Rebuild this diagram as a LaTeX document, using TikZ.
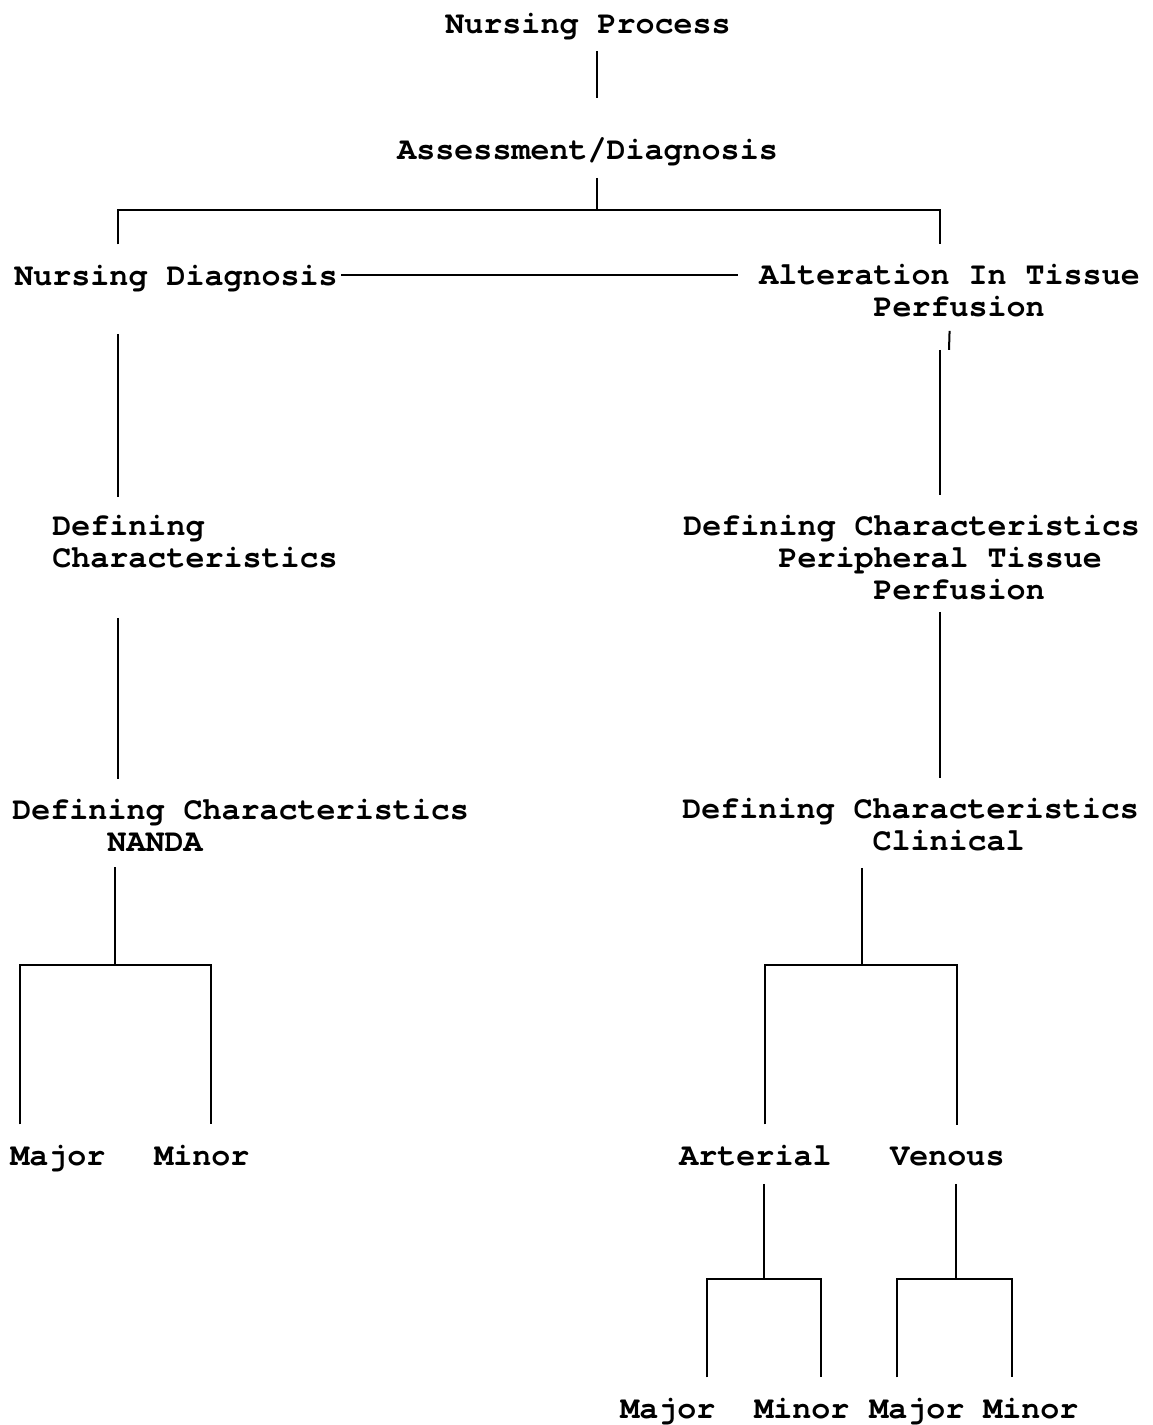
\documentclass[tikz,border=0pt]{standalone}
\usepackage{fontspec}
\newfontfamily\mono[Ligatures=NoCommon]{TeX Gyre Cursor}

\begin{document}
\begin{tikzpicture}[x=0.5pt,y=-0.5pt,
  lbl/.style={anchor=base west,inner sep=0pt,align=left,
    font=\mono\bfseries\fontsize{15.85pt}{15.8pt}\selectfont},
  link/.style={line width=1pt}]
  \useasboundingbox (0,0) rectangle (1152,1425);

  % texts (anchored at the baseline of the last line)
  \node[lbl] (np)   at (445,33)  {Nursing Process};
  \node[lbl] (ad)   at (397,159) {Assessment/Diagnosis};
  \node[lbl] (nd)   at (14,285)  {Nursing Diagnosis};
  \node[lbl] (atp)  at (759,316) {Alteration In Tissue\\\hphantom{000000}Perfusion};
  \node[lbl] (dc1)  at (52,567)  {Defining\\Characteristics};
  \node[lbl] (dcp)  at (683,599) {Defining Characteristics\\\hphantom{00000}Peripheral Tissue\\\hphantom{0000000000}Perfusion};
  \node[lbl] (dcn)  at (12,851)  {Defining Characteristics\\\hphantom{00000}NANDA};
  \node[lbl] (dcc)  at (682,850) {Defining Characteristics\\\hphantom{0000000000}Clinical};
  \node[lbl] (maj1) at (10,1165)  {Major};
  \node[lbl] (min1) at (154,1165) {Minor};
  \node[lbl] (art)  at (679,1165) {Arterial};
  \node[lbl] (ven)  at (890,1165) {Venous};
  \node[lbl] (maj2) at (620,1418) {Major};
  \node[lbl] (min2) at (754,1418) {Minor};
  \node[lbl] (maj3) at (869,1418) {Major};
  \node[lbl] (min3) at (983,1418) {Minor};

  % columns and junctions
  \coordinate (cl) at (118,0);
  \coordinate (cr) at (940,0);
  \coordinate (tick) at (950,0);
  \coordinate (j-ad) at (597,210);
  \coordinate (j-dcn) at (115,965);
  \coordinate (j-dcc) at (862,965);
  \coordinate (j-art) at (764,1279);
  \coordinate (j-ven) at (956,1279);
  \coordinate (b1l) at (20,965);  \coordinate (b1r) at (211,965);
  \coordinate (b2l) at (765,965); \coordinate (b2r) at (957,965);
  \coordinate (b3l) at (707,1279); \coordinate (b3r) at (821,1279);
  \coordinate (b4l) at (897,1279); \coordinate (b4r) at (1012,1279);

  % top
  \draw[link,shorten <=5.5pt,shorten >=19.5pt] (np.south -| j-ad) -- (ad.north -| j-ad);
  \draw[link,shorten <=6pt] (ad.south -| j-ad) -- (j-ad);
  \draw[link,shorten <=10pt,shorten >=10pt] (nd.north -| cl) |- (j-ad) -| (atp.north -| cr);
  \draw[link,shorten <=1.5pt,shorten >=10.5pt] ([yshift=3pt]nd.mid east) -- ([yshift=3pt]nd.mid east -| atp.west);

  % left column
  \draw[link,shorten <=21pt,shorten >=9pt] (nd.south -| cl) -- (dc1.north -| cl);
  \draw[link,shorten <=25pt,shorten >=10pt] (dc1.south -| cl) -- (dcn.north -| cl);
  \draw[link,shorten <=8pt] (dcn.south -| j-dcn) -- (j-dcn);
  \draw[link,shorten <=10pt,shorten >=10pt] (maj1.north -| b1l) -- (b1l) -- (b1r) -- (min1.north -| b1r);

  % right column
  \draw[link,shorten <=7pt] (atp.south -| tick) -- ++(-1,33);
  \draw[link,shorten >=10pt] (atp.south -| cr) ++(0,33) -- (dcp.north -| cr);
  \draw[link,shorten <=6pt,shorten >=10pt] (dcp.south -| cr) -- (dcc.north -| cr);
  \draw[link,shorten <=8.5pt] (dcc.south -| j-dcc) -- (j-dcc);
  \draw[link,shorten <=10pt,shorten >=10.5pt] (art.north -| b2l) -- (b2l) -- (b2r) -- (ven.north -| b2r);

  % arterial / venous
  \draw[link,shorten <=9pt] (art.south -| j-art) -- (j-art);
  \draw[link,shorten <=10pt,shorten >=10pt] (maj2.north -| b3l) -- (b3l) -- (b3r) -- (min2.north -| b3r);
  \draw[link,shorten <=9pt] (ven.south -| j-ven) -- (j-ven);
  \draw[link,shorten <=10pt,shorten >=10pt] (maj3.north -| b4l) -- (b4l) -- (b4r) -- (min3.north -| b4r);
\end{tikzpicture}
\end{document}
